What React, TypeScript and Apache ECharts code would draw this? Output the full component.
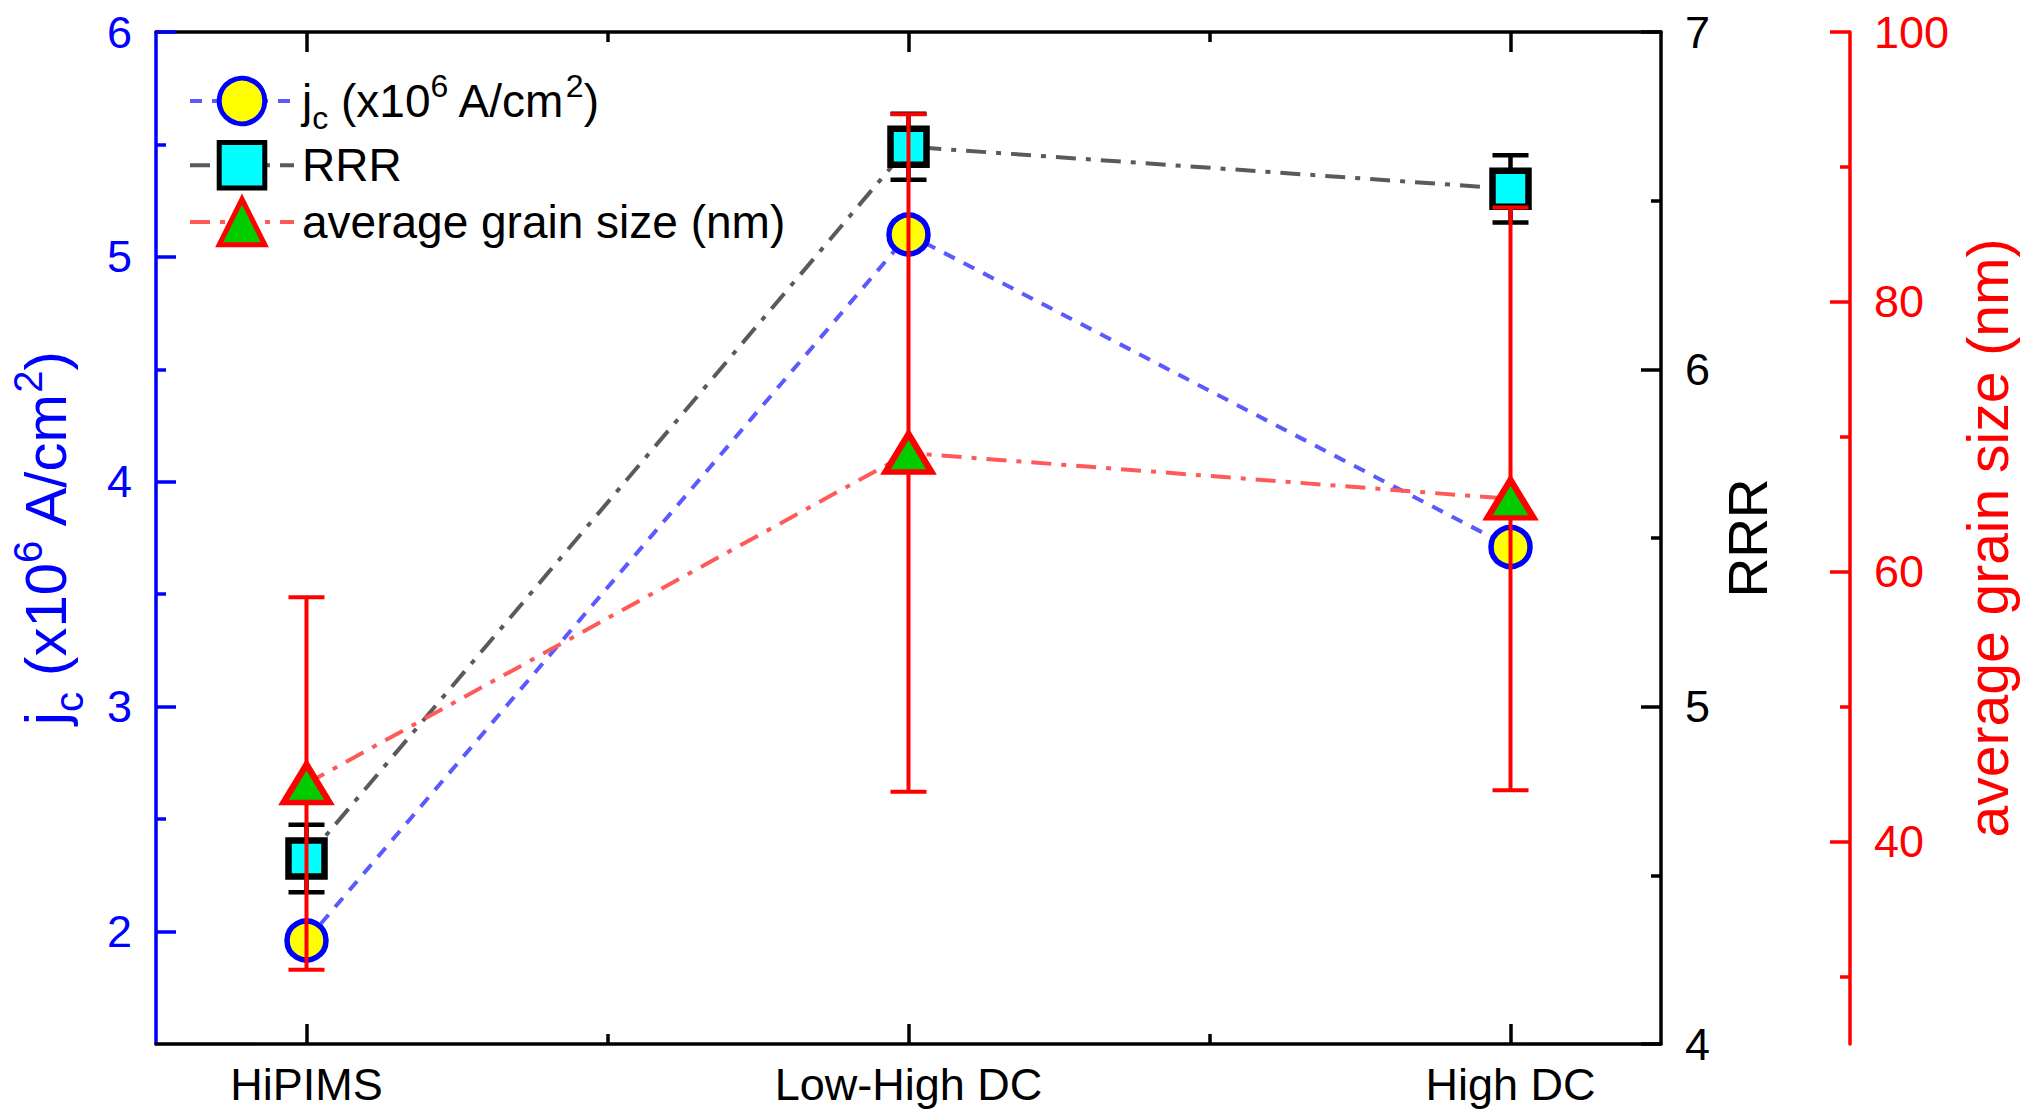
import React, { useEffect, useRef } from 'react';
import * as echarts from 'echarts';

const categories = ['HiPIMS', 'Low-High DC', 'High DC'];
const jcValues = [1.96, 5.1, 3.71];
const rrrValues = [4.55, 6.66, 6.535];
const rrrErrors = [0.1, 0.098, 0.1];
const grainValues = [44.3, 68.8, 65.4];
const grainErrors = [13.8, 25.1, 21.6];

const xTicks = [0, 1, 2];
const xMinorTicks = [0.5, 1.5];
const jcTicks = [2, 3, 4, 5, 6];
const jcMinorTicks = [2.5, 3.5, 4.5, 5.5];
const rrrTicks = [4, 5, 6, 7];
const rrrMinorTicks = [4.5, 5.5, 6.5];
const grainTicks = [40, 60, 80, 100];
const grainMinorTicks = [30, 50, 70, 90];

const FONT = '"Liberation Sans", Arial, sans-serif';
const BLUE = '#0000ff';
const RED = '#ff0000';
const BLACK = '#000000';

function errorRender(color: string, lw: number, cap: number) {
  return (params: any, api: any) => {
    const x = api.value(0);
    const y = api.value(1);
    const e = api.value(2);
    const hi = api.coord([x, y + e]);
    const lo = api.coord([x, y - e]);
    const style = { stroke: color, lineWidth: lw };
    return {
      type: 'group',
      children: [
        { type: 'line', shape: { x1: hi[0], y1: hi[1], x2: lo[0], y2: lo[1] }, style },
        { type: 'line', shape: { x1: hi[0] - cap, y1: hi[1], x2: hi[0] + cap, y2: hi[1] }, style },
        { type: 'line', shape: { x1: lo[0] - cap, y1: lo[1], x2: lo[0] + cap, y2: lo[1] }, style },
      ],
    };
  };
}

// rich styles for sub/superscripts; negative padding keeps line height unchanged
function richFor(color: string, size: number, small: number, up: number, down: number) {
  return {
    b: { fontSize: size, color, fontFamily: FONT },
    sub: { fontSize: small, color, fontFamily: FONT, padding: [down, 0, -down, 0] },
    sup: { fontSize: small, color, fontFamily: FONT, padding: [-up, 0, up, 0] },
  };
}

const JC_LABEL = '{b|j}{sub|c}{b| (x10}{sup|6}{b| A/cm}{sup|2}{b|)}';

export default function App() {
  const ref = useRef<HTMLDivElement>(null);
  useEffect(() => {
    if (!ref.current) return;
    const chart = echarts.init(ref.current, undefined, { renderer: 'svg' });

    const baseX = { type: 'value', min: -0.25, max: 2.25, splitLine: { show: false }, gridIndex: 0 };
    const majorTick = (color: string, values: number[]) => ({
      show: true, inside: true, length: 20, customValues: values, lineStyle: { color, width: 3.5 },
    });
    const minorTick = (color: string, values: number[]) => ({
      show: true, inside: true, length: 10, customValues: values, lineStyle: { color, width: 3.5 },
    });
    const noLine = { show: false, onZero: false };
    const line = (color: string) => ({ show: true, onZero: false, lineStyle: { color, width: 3.5 } });

    const option: any = {
      animation: false,
      backgroundColor: '#ffffff',
      grid: { left: 155, right: 370, top: 32, bottom: 75, containLabel: false },
      legend: {
        left: 183,
        top: 65,
        orient: 'vertical',
        itemWidth: 104,
        itemHeight: 57,
        itemGap: 6,
        data: ['jc', 'RRR', 'average grain size (nm)'],
        formatter: (name: string) => (name === 'jc' ? JC_LABEL : name),
        itemStyle: { borderWidth: 5 },
        lineStyle: { width: 4 },
        textStyle: {
          fontSize: 46,
          fontFamily: FONT,
          color: BLACK,
          padding: [0, 0, 0, 3],
          rich: richFor(BLACK, 46, 32, 15, 17),
        },
      },
      xAxis: [
        {
          ...baseX,
          position: 'bottom',
          axisLine: line(BLACK),
          axisTick: majorTick(BLACK, xTicks),
          axisLabel: {
            customValues: xTicks,
            formatter: (v: number) => categories[Math.round(v)] ?? '',
            fontSize: 45,
            fontFamily: FONT,
            color: BLACK,
            margin: 18,
          },
        },
        { ...baseX, position: 'bottom', axisLine: noLine, axisTick: minorTick(BLACK, xMinorTicks), axisLabel: { show: false } },
        { ...baseX, position: 'top', axisLine: line(BLACK), axisTick: majorTick(BLACK, xTicks), axisLabel: { show: false } },
        { ...baseX, position: 'top', axisLine: noLine, axisTick: minorTick(BLACK, xMinorTicks), axisLabel: { show: false } },
      ],
      yAxis: [
        {
          type: 'value', position: 'left', min: 1.5, max: 6,
          axisLine: line(BLUE),
          axisTick: majorTick(BLUE, jcTicks),
          axisLabel: { customValues: jcTicks, fontSize: 45, fontFamily: FONT, color: BLUE, margin: 24 },
          splitLine: { show: false },
          name: JC_LABEL,
          nameLocation: 'middle',
          nameRotate: 90,
          nameGap: 82,
          nameTextStyle: { fontSize: 58, fontFamily: FONT, color: BLUE, rich: richFor(BLUE, 58, 40, 17, 24) },
        },
        {
          type: 'value', position: 'left', min: 1.5, max: 6,
          axisLine: noLine, axisTick: minorTick(BLUE, jcMinorTicks), axisLabel: { show: false }, splitLine: { show: false },
        },
        {
          type: 'value', position: 'right', min: 4, max: 7,
          axisLine: line(BLACK),
          axisTick: majorTick(BLACK, rrrTicks),
          axisLabel: { customValues: rrrTicks, fontSize: 45, fontFamily: FONT, color: BLACK, margin: 24 },
          splitLine: { show: false },
          name: 'RRR',
          nameLocation: 'middle',
          nameRotate: 90,
          nameGap: 58,
          nameTextStyle: { fontSize: 55, fontFamily: FONT, color: BLACK },
        },
        {
          type: 'value', position: 'right', min: 4, max: 7,
          axisLine: noLine, axisTick: minorTick(BLACK, rrrMinorTicks), axisLabel: { show: false }, splitLine: { show: false },
        },
        {
          type: 'value', position: 'right', offset: 189, min: 25, max: 100,
          axisLine: line(RED),
          axisTick: majorTick(RED, grainTicks),
          axisLabel: { customValues: grainTicks, fontSize: 45, fontFamily: FONT, color: RED, margin: 24 },
          splitLine: { show: false },
          name: 'average grain size (nm)',
          nameLocation: 'middle',
          nameRotate: 90,
          nameGap: 97,
          nameTextStyle: { fontSize: 57, fontFamily: FONT, color: RED },
        },
        {
          type: 'value', position: 'right', offset: 189, min: 25, max: 100,
          axisLine: noLine, axisTick: minorTick(RED, grainMinorTicks), axisLabel: { show: false }, splitLine: { show: false },
        },
      ],
      series: [
        {
          name: 'jc',
          type: 'line',
          xAxisIndex: 0,
          yAxisIndex: 0,
          z: 2,
          data: jcValues.map((v, i) => [i, v]),
          symbol: 'circle',
          symbolSize: 39,
          lineStyle: { color: '#5a5aff', width: 4, type: [12, 10] },
          itemStyle: { color: '#ffff00', borderColor: BLUE, borderWidth: 5.5 },
        },
        {
          name: 'RRR err',
          type: 'custom',
          xAxisIndex: 0,
          yAxisIndex: 2,
          z: 3,
          data: rrrValues.map((v, i) => [i, v, rrrErrors[i]]),
          renderItem: errorRender(BLACK, 4.5, 18),
        },
        {
          name: 'RRR',
          type: 'line',
          xAxisIndex: 0,
          yAxisIndex: 2,
          z: 4,
          data: rrrValues.map((v, i) => [i, v]),
          symbol: 'rect',
          symbolSize: 36,
          lineStyle: { color: '#5a5a5a', width: 4, type: [20, 10, 5, 10] },
          itemStyle: { color: '#00ffff', borderColor: BLACK, borderWidth: 6.5 },
        },
        {
          name: 'grain err',
          type: 'custom',
          xAxisIndex: 0,
          yAxisIndex: 4,
          z: 5,
          data: grainValues.map((v, i) => [i, v, grainErrors[i]]),
          renderItem: errorRender(RED, 4, 18),
        },
        {
          name: 'average grain size (nm)',
          type: 'line',
          xAxisIndex: 0,
          yAxisIndex: 4,
          z: 6,
          data: grainValues.map((v, i) => [i, v]),
          symbol: 'triangle',
          symbolSize: [46, 38],
          lineStyle: { color: '#ff5a5a', width: 4, type: [20, 10, 5, 10] },
          itemStyle: { color: '#00cc00', borderColor: RED, borderWidth: 6 },
        },
      ],
    };
    chart.setOption(option);
    return () => chart.dispose();
  }, []);

  return (
    <div
      ref={ref}
      style={{ position: 'absolute', left: 0, top: 0, width: 2031, height: 1119, background: '#ffffff' }}
    />
  );
}
